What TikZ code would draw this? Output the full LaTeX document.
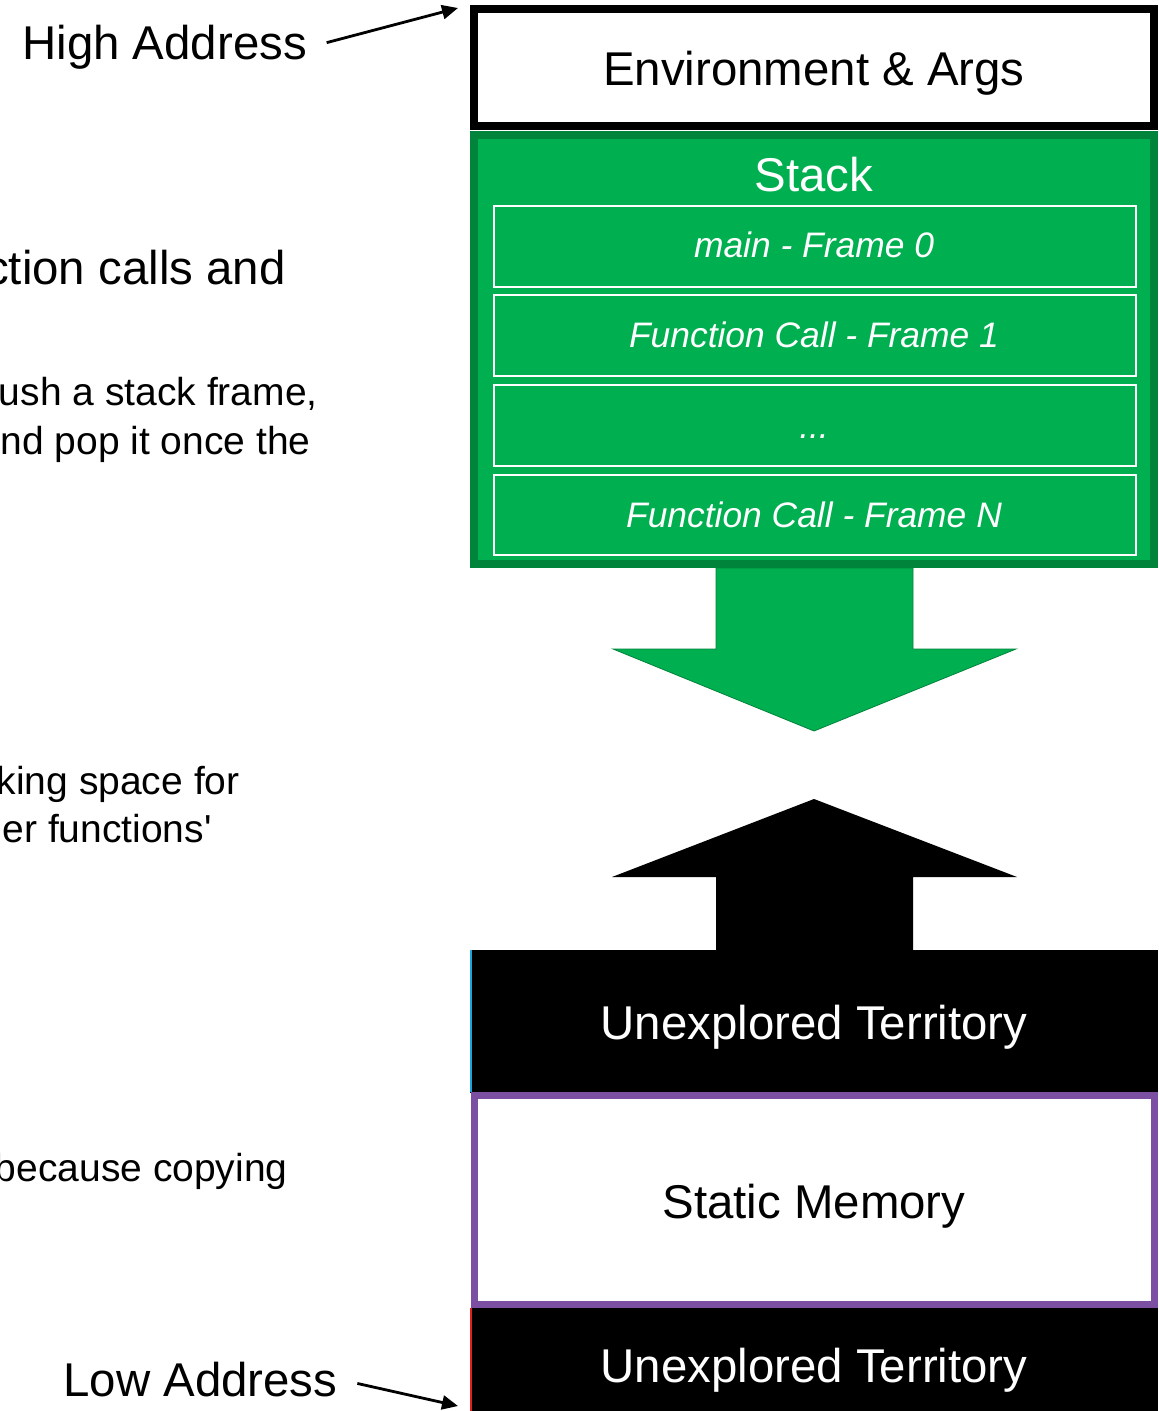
\documentclass[tikz,border=0pt]{standalone}
\usepackage{fontspec}
\setmainfont{Liberation Sans}
\usetikzlibrary{fit,arrows.meta}
\definecolor{stackgreen}{HTML}{00B050}
\definecolor{stackedge}{HTML}{00833A}
\definecolor{staticpurple}{HTML}{7B4FA2}
\definecolor{edgecyan}{HTML}{1AA3DC}
\definecolor{edgered}{HTML}{E0201B}
\tikzset{
  bigtext/.style={font=\fontsize{23.7}{28}\selectfont, inner sep=0pt},
  smalltext/.style={font=\fontsize{19.5}{24}\selectfont, inner sep=0pt},
  frametext/.style={font=\fontsize{17.7}{21}\selectfont\itshape, text=white, inner sep=0pt},
  region/.style={inner sep=0pt, outer sep=0pt},
  framebox/.style={region, draw=white, line width=1pt},
  pointer/.style={line width=1.4pt, -{Triangle[length=8pt,width=7pt]}}
}
\begin{document}
\begin{tikzpicture}[x=0.5pt,y=-0.5pt]
\useasboundingbox (0,0) rectangle (1158,1411);
\clip (0,0) rectangle (1158,1411);
\fill[white] (0,0) rectangle (1158,1411);

% Environment & Args
\node (env) [region, fit={(474,9) (1154,126)}, draw=black, line width=4pt] {};
\node (envt) [bigtext, anchor=base] at (814,86) {Environment \& Args};

% Stack
\node (stack) [region, fit={(474,135) (1154,564)}, draw=stackedge, fill=stackgreen, line width=4pt] {};
\node (stackt) [bigtext, text=white, anchor=base] at (814,192) {Stack};
\node (f0) [framebox, fit={(494,206) (1136,287)}] {};
\node (f1) [framebox, fit={(494,295) (1136,376)}] {};
\node (f2) [framebox, fit={(494,385) (1136,466)}] {};
\node (f3) [framebox, fit={(494,475) (1136,555)}] {};
\node (f0t) [frametext, anchor=base] at (814,258) {main - Frame 0};
\node (f1t) [frametext, anchor=base] at (814,348) {Function Call - Frame 1};
\node (f2t) [frametext, anchor=base] at (814,438) {...};
\node (f3t) [frametext, anchor=base] at (814,527) {Function Call - Frame N};

% growth arrows
\filldraw[fill=stackgreen, draw=stackedge, line width=0.4pt]
  (716,568) -- (913,568) -- (913,649) -- (1016,649) -- (814,731) -- (613,649) -- (716,649) -- cycle;
\fill[black]
  (814,799) -- (1017,877) -- (913,877) -- (913,951) -- (716,951) -- (716,877) -- (612,877) -- cycle;

% Unexplored / Static
\node (unexa) [region, fit={(470,950) (1158,1093)}, fill=black] {};
\draw[edgecyan, line width=1.2pt] (471,950) -- (471,1092);
\node (unexat) [bigtext, text=white, anchor=base] at (814,1039) {Unexplored Territory};

\node (static) [region, fit={(474,1095.5) (1154,1304.5)}, draw=staticpurple, fill=white, line width=3.5pt] {};
\node (statict) [bigtext, anchor=base] at (814,1218) {Static Memory};

\node (unexb) [region, fit={(470,1308) (1158,1420)}, fill=black] {};
\draw[edgered, line width=1pt] (470.5,1308) -- (470.5,1411);
\node (unexbt) [bigtext, text=white, anchor=base] at (814,1382) {Unexplored Territory};

% address labels
\node (high) [bigtext, anchor=base west] at (22,60) {High Address};
\node (low) [bigtext, anchor=base west] at (63,1396) {Low Address};
\coordinate (hightip) at (458,8);
\coordinate (lowtip) at (458,1406);
\draw[pointer, shorten <=10pt] (high.east) -- (hightip);
\draw[pointer, shorten <=10pt] (low.east) -- (lowtip);

% clipped side notes
\node (n1) [bigtext, anchor=base east] at (286,285) {ction calls and};
\node (n2) [smalltext, anchor=base east] at (318,406) {ush a stack frame,};
\node (n3) [smalltext, anchor=base east] at (311,454) {nd pop it once the};
\node (n4) [smalltext, anchor=base east] at (240,794) {king space for};
\node (n5) [smalltext, anchor=base east] at (212,842) {er functions\textquotesingle};
\node (n6) [smalltext, anchor=base east] at (288,1181) {because copying};
\end{tikzpicture}
\end{document}
